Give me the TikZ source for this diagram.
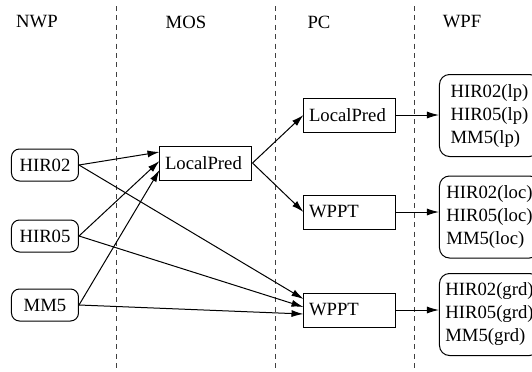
\documentclass[tikz,border=0pt]{standalone}
\usepackage{fontspec}
\setmainfont{Liberation Serif}
\usetikzlibrary{arrows.meta}
\tikzset
  {src/.style={rectangle,rounded corners=4pt,draw=black,line width=0.5pt,minimum width=33.5pt,minimum height=16pt,inner sep=0pt},
   stage/.style={rectangle,draw=black,line width=0.5pt,text width=41pt,inner xsep=2.5pt,minimum height=17pt,inner ysep=0pt,align=left},
   result/.style={rectangle,rounded corners=5pt,draw=black,line width=0.5pt,minimum width=50pt,minimum height=41pt,inner xsep=2pt,align=left,anchor=west},
   flow/.style={-{Latex[length=6pt,width=3.5pt]},line width=0.5pt},
   sep/.style={line width=0.5pt,draw=black!75,dash pattern=on 2.5pt off 2.2pt}}

\begin{document}
\begin{tikzpicture}[x=0.5pt,y=-0.5pt,every node/.style={font=\fontsize{9.35}{11.5}\selectfont}]
 \useasboundingbox (0,0) rectangle (532,371);

 % columns
 \draw[sep] (117,6) -- (117,371);
 \draw[sep] (276,6) -- (276,371);
 \draw[sep] (415,6) -- (415,371);

 \draw (37,22)  node (nwp) {NWP};
 \draw (186,22) node (mos) {MOS};
 \draw (319,22) node (pc)  {PC};
 \draw (462,22) node (wpf) {WPF};

 % NWP inputs
 \draw (45,165) node[src] (H2) {HIR02};
 \draw (45,236) node[src] (H5) {HIR05};
 \draw (45,305) node[src] (M5) {MM5};

 % MOS and PC
 \draw (206,163) node[stage] (L)  {LocalPred};
 \draw (350,115) node[stage] (L2) {LocalPred};
 \draw (350,212) node[stage] (W1) {WPPT};
 \draw (350,310) node[stage] (W2) {WPPT};

 % WPF outputs
 \draw (439,115.5) node[result] (R1) {HIR02(lp)\\HIR05(lp)\\MM5(lp)};
 \draw (439,217)   node[result] (R2) {HIR02(loc)\\HIR05(loc)\\MM5(loc)};
 \draw (439,314.5) node[result] (R3) {HIR02(grd)\\HIR05(grd)\\MM5(grd)};

 \draw[flow] (H2.east) -- ([yshift=5.5pt]L.west);
 \draw[flow] (H5.east) -- ([yshift=1pt]L.west);
 \draw[flow] (M5.east) -- ([yshift=-3.5pt]L.west);

 \draw[flow] (H2.east) -- ([yshift=5.5pt]W2.west);
 \draw[flow] (H5.east) -- ([yshift=1.5pt]W2.west);
 \draw[flow] (M5.east) -- ([yshift=-2pt]W2.west);

 \draw[flow] (L.east) -- (L2.west);
 \draw[flow] (L.east) -- (W1.west);

 \draw[flow] (L2.east) -- (L2.east -| R1.west);
 \draw[flow] (W1.east) -- (W1.east -| R2.west);
 \draw[flow] (W2.east) -- (W2.east -| R3.west);
\end{tikzpicture}
\end{document}
